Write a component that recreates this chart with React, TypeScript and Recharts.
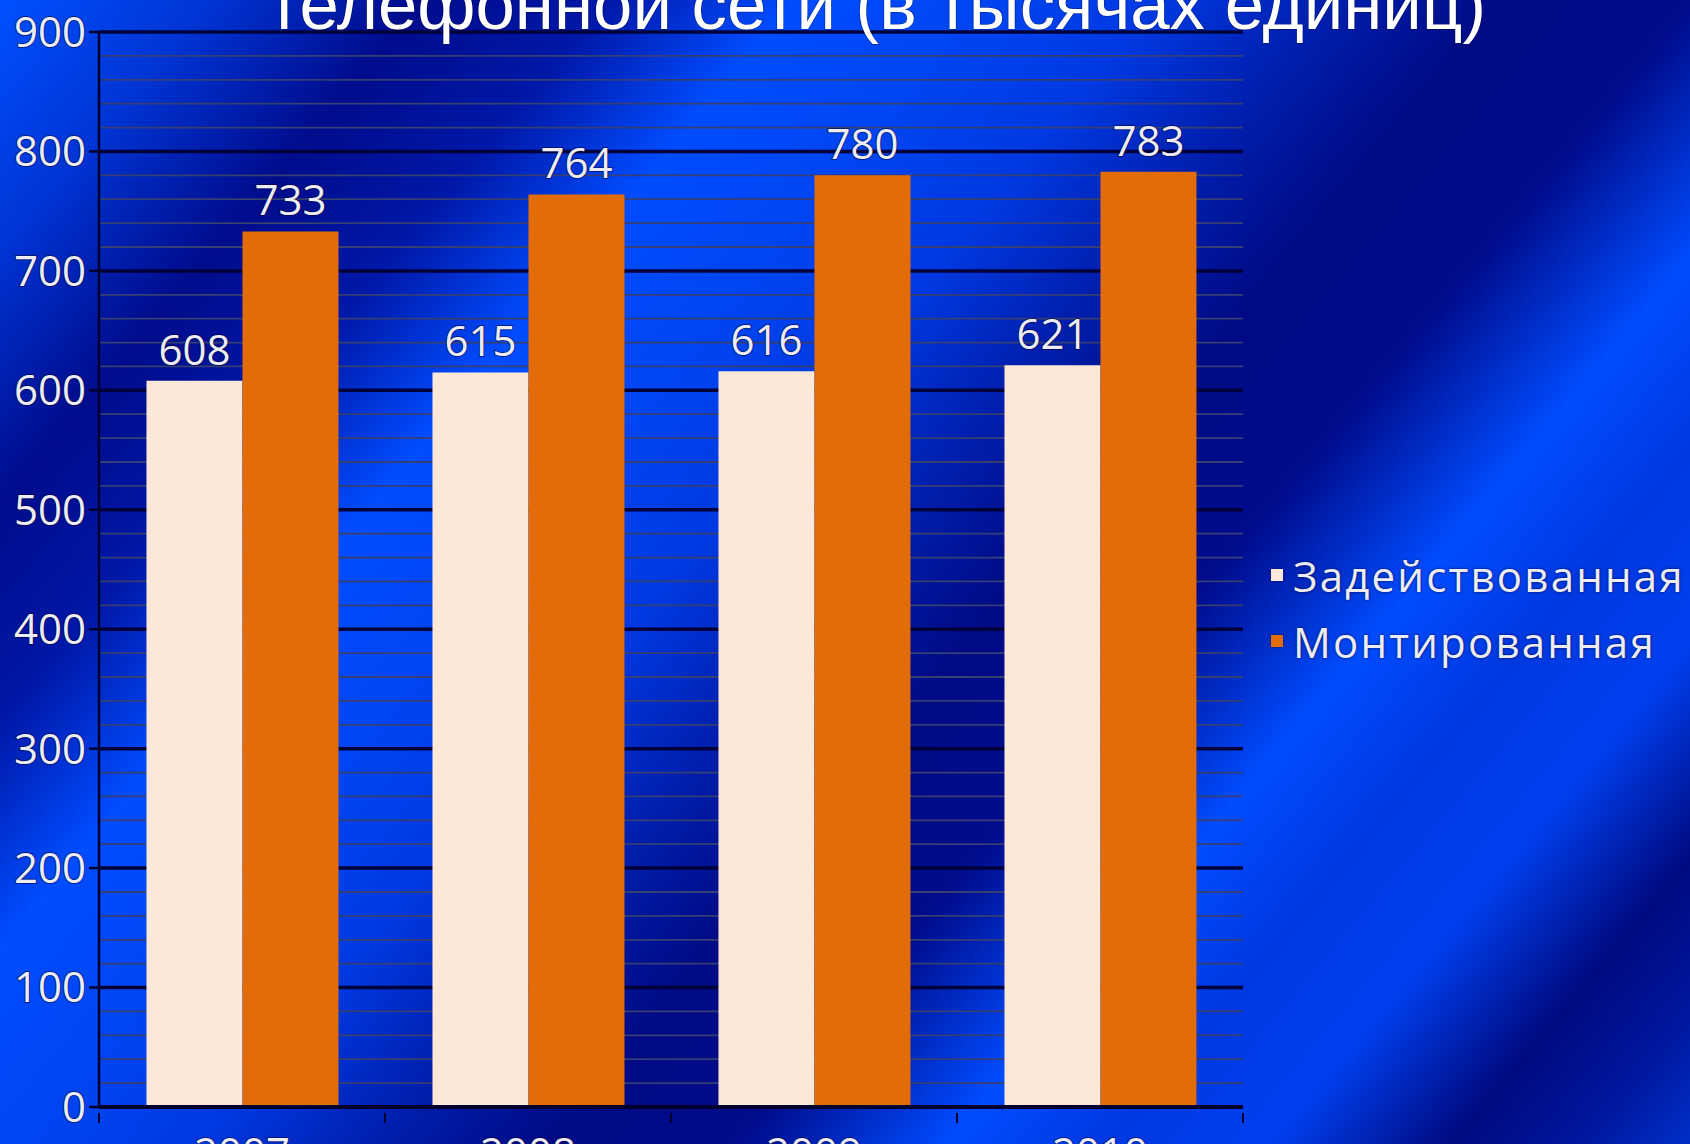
import * as React from 'react';
import {
  Bar,
  BarChart,
  CartesianGrid,
  LabelList,
  Legend,
  XAxis,
  YAxis,
} from 'recharts';

const years = ['2007', '2008', '2009', '2010'];
const zadeistvovannaya = [608, 615, 616, 621];
const montirovannaya = [733, 764, 780, 783];
// шаг сетки 20, подписи только у сотен
const gridTicks = [
  0, 20, 40, 60, 80, 100, 120, 140, 160, 180, 200, 220, 240, 260, 280, 300,
  320, 340, 360, 380, 400, 420, 440, 460, 480, 500, 520, 540, 560, 580, 600,
  620, 640, 660, 680, 700, 720, 740, 760, 780, 800, 820, 840, 860, 880, 900,
];
const MAJOR_STEP = 100;

const TITLE = 'телефонной сети (в тысячах единиц)';
const SERIES_USED = 'Задействованная';
const SERIES_MOUNTED = 'Монтированная';

const W = 1690;
const H = 1144;
const FONT = '"Open Sans", "Noto Sans", "DejaVu Sans", sans-serif';
const AXIS_DARK = '#00002e';
const LABEL_FILL = '#ececf2';
const LABEL_EDGE = 'rgba(0,0,40,0.55)';
const X_TICK_MARGIN = 25;
const Y_TICK_SIZE = 10;
const Y_TICK_MARGIN = 3;

const BACKGROUND =
  'linear-gradient(130deg, #0050ff 0%, #0034d4 8%, #000c8c 16%, #0018a8 23%, #004cff 30%, #0044f0 38%, #0038e0 44%, #0020b0 50%, #000a84 57%, #000c8c 64%, #004cff 72%, #0038e0 78%, #0040f0 84%, #000a80 91%, #0018a0 96%, #0030c8 100%)';

const data = years.map((year, i) => ({
  year,
  used: zadeistvovannaya[i],
  mounted: montirovannaya[i],
}));

function GridLine(props: any) {
  const { x1, x2, y1, y2, index } = props;
  const major = gridTicks[index] % MAJOR_STEP === 0;
  return (
    <line
      x1={x1}
      x2={x2}
      y1={y1}
      y2={y2}
      stroke={major ? '#00003a' : '#363f74'}
      strokeWidth={major ? 3.5 : 1.8}
      fill="none"
    />
  );
}

function ValueTick(props: any) {
  const { x, y, payload } = props;
  if (payload.value % MAJOR_STEP !== 0) return <g />;
  return (
    <g>
      <line
        x1={x + Y_TICK_MARGIN}
        x2={x + Y_TICK_MARGIN + Y_TICK_SIZE}
        y1={y}
        y2={y}
        stroke={AXIS_DARK}
        strokeWidth={2.5}
      />
      <text
        x={x}
        y={y}
        dy="0.355em"
        textAnchor="end"
        fontFamily={FONT}
        fontSize={42}
        fill={LABEL_FILL}
        stroke={LABEL_EDGE}
        strokeWidth={2}
        paintOrder="stroke"
      >
        {payload.value}
      </text>
    </g>
  );
}

// подпись года + засечки на границах категорий
function YearTick(props: any) {
  const { x, y, payload, width, visibleTicksCount, index } = props;
  const band = width / visibleTicksCount;
  const axisY = y - X_TICK_MARGIN;
  return (
    <g>
      <line x1={x - band / 2} x2={x - band / 2} y1={axisY} y2={axisY + 10} stroke={AXIS_DARK} strokeWidth={2} />
      {index === visibleTicksCount - 1 && (
        <line x1={x + band / 2} x2={x + band / 2} y1={axisY} y2={axisY + 10} stroke={AXIS_DARK} strokeWidth={2} />
      )}
      <text
        x={x}
        y={y}
        dy="0.71em"
        textAnchor="middle"
        fontFamily={FONT}
        fontSize={42}
        fill={LABEL_FILL}
        stroke={LABEL_EDGE}
        strokeWidth={2}
        paintOrder="stroke"
      >
        {payload.value}
      </text>
    </g>
  );
}

function LegendBox({ payload }: any) {
  return (
    <div style={{ fontFamily: FONT, fontSize: 42, color: LABEL_FILL }}>
      {(payload || []).map((e: any) => (
        <div
          key={e.value}
          style={{ display: 'flex', alignItems: 'center', height: 66, whiteSpace: 'nowrap', letterSpacing: 2.2 }}
        >
          <span
            style={{
              display: 'inline-block',
              width: 12,
              height: 12,
              background: e.color,
              marginRight: 10,
              boxShadow: '0 0 2px rgba(0,0,0,0.6)',
            }}
          />
          <span style={{ textShadow: '0 0 3px rgba(0,0,40,0.8)' }}>{e.value}</span>
        </div>
      ))}
    </div>
  );
}

const labelStyle = {
  fontFamily: FONT,
  fontSize: 42,
  fill: LABEL_FILL,
  stroke: LABEL_EDGE,
  strokeWidth: 2,
  paintOrder: 'stroke',
};

export default function App() {
  return (
    <div style={{ position: 'relative', width: W, height: H, overflow: 'hidden', background: BACKGROUND }}>
      <style>{'body{margin:0}'}</style>
      <BarChart
        width={W}
        height={H}
        data={data}
        margin={{ top: 32, right: 447, bottom: 0, left: 0 }}
        barCategoryGap="16.6%"
        barGap={0}
      >
        <CartesianGrid vertical={false} horizontal={(p: any) => <GridLine key={p.key} {...p} />} />
        <XAxis
          dataKey="year"
          height={37}
          axisLine={{ stroke: AXIS_DARK, strokeWidth: 4 }}
          tickLine={false}
          tickMargin={X_TICK_MARGIN}
          interval={0}
          tick={<YearTick />}
        />
        <YAxis
          width={99}
          domain={[0, 900]}
          ticks={gridTicks}
          interval={0}
          axisLine={{ stroke: AXIS_DARK, strokeWidth: 2.5 }}
          tickLine={false}
          tickSize={Y_TICK_SIZE}
          tickMargin={Y_TICK_MARGIN}
          tick={<ValueTick />}
        />
        <Legend
          layout="vertical"
          align="center"
          verticalAlign="middle"
          content={<LegendBox />}
          wrapperStyle={{ left: 1271, top: 542, width: 'auto' }}
        />
        <Bar dataKey="used" name={SERIES_USED} fill="#fce8d8" isAnimationActive={false}>
          <LabelList dataKey="used" position="top" offset={16} {...labelStyle} />
        </Bar>
        <Bar dataKey="mounted" name={SERIES_MOUNTED} fill="#e36c0a" isAnimationActive={false}>
          <LabelList dataKey="mounted" position="top" offset={16} {...labelStyle} />
        </Bar>
      </BarChart>
      <svg width={W} height={60} style={{ position: 'absolute', left: 0, top: 0, pointerEvents: 'none' }}>
        <text
          x={268}
          y={29}
          textLength={1218}
          lengthAdjust="spacingAndGlyphs"
          fontFamily='"Liberation Sans", Arial, sans-serif'
          fontSize={70}
          fill="#ffffff"
          stroke="rgba(0,0,30,0.35)"
          strokeWidth={1.5}
          paintOrder="stroke"
        >
          {TITLE}
        </text>
      </svg>
    </div>
  );
}
